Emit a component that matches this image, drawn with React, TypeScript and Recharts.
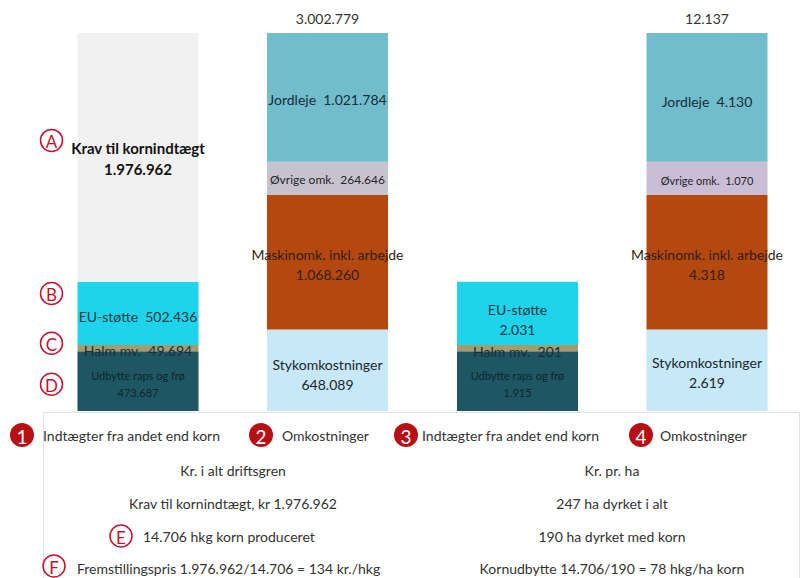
import React from 'react';
import { BarChart, Bar, XAxis, YAxis, LabelList } from 'recharts';

// values: [kr. i alt driftsgren, kr. pr. ha]
const panels = ['Kr. i alt driftsgren', 'Kr. pr. ha'];
const categories = ['Indtægter fra andet end korn', 'Omkostninger'];
const udbytteRaps = [473687, 1915];
const halm = [49694, 201];
const euStotte = [502436, 2031];
const kravKorn = [1976962, 0];
const stykomk = [648089, 2619];
const maskinomk = [1068260, 4318];
const ovrigeOmk = [264646, 1070];
const jordleje = [1021784, 4130];
const totals = [3002779, 12137];

const leftNotes = [panels[0], 'Krav til kornindtægt, kr 1.976.962', '14.706 hkg korn produceret', 'Fremstillingspris 1.976.962/14.706 = 134 kr./hkg'];
const rightNotes = [panels[1], '247 ha dyrket i alt', '190 ha dyrket med korn', 'Kornudbytte 14.706/190 = 78 hkg/ha korn'];

const FONT = 'Lato, "Open Sans", sans-serif';
const RED = '#c8102e';

const fmt = (v: number) => String(v).replace(/\B(?=(\d{3})+(?!\d))/g, '.');

const colors: Record<string, string[]> = {
  udbytte: ['#1f5663', '#1f5663'],
  halm: ['#a99a6c', '#a99a6c'],
  eu: ['#1fd3ea', '#1fd3ea'],
  krav: ['#f1f1f1', '#f1f1f1'],
  styk: ['#c7e8f7', '#c7e8f7'],
  maskin: ['#b5480f', '#b5480f'],
  ovrige: ['#c7c3ce', '#cabed6'],
  jordleje: ['#72bdcc', '#72bdcc'],
};

type Spec = {
  lines: (v: number, p: number) => string[];
  size: number[];
  dy: number[];
  bold?: boolean;
  color: string;
  letter?: string;
  letterDy?: number;
};

const specs: Record<string, Spec> = {
  krav: { lines: (v) => ['Krav til kornindtægt', fmt(v)], size: [15, 15], dy: [1, 1], bold: true, color: '#111', letter: 'A', letterDy: -17 },
  eu: { lines: (v, p) => (p === 0 ? ['EU-støtte  ' + fmt(v)] : ['EU-støtte', fmt(v)]), size: [14, 14], dy: [3, 6], color: '#133a44', letter: 'B', letterDy: -20 },
  halm: { lines: (v) => ['Halm mv.  ' + fmt(v)], size: [14, 14], dy: [2, 3], color: '#12313a', letter: 'C', letterDy: -5 },
  udbytte: { lines: (v) => ['Udbytte raps og frø', fmt(v)], size: [11, 11], dy: [3, 3], color: '#0b262d', letter: 'D', letterDy: 3 },
  styk: { lines: (v) => ['Stykomkostninger', fmt(v)], size: [14, 14], dy: [4, 2], color: '#1a262c' },
  maskin: { lines: (v) => ['Maskinomk. inkl. arbejde', fmt(v)], size: [14, 14], dy: [2, 2], color: '#321e14' },
  ovrige: { lines: (v) => ['Øvrige omk.  ' + fmt(v)], size: [12, 11], dy: [1, 2], color: '#24242c' },
  jordleje: { lines: (v) => ['Jordleje  ' + fmt(v)], size: [14, 14], dy: [2, 4], color: '#142e38' },
};

const order = ['udbytte', 'halm', 'eu', 'krav', 'styk', 'maskin', 'ovrige', 'jordleje'];

const buildRows = (p: number) => [
  { name: categories[0], udbytte: udbytteRaps[p], halm: halm[p], eu: euStotte[p], krav: kravKorn[p], styk: 0, maskin: 0, ovrige: 0, jordleje: 0 },
  { name: categories[1], udbytte: 0, halm: 0, eu: 0, krav: 0, styk: stykomk[p], maskin: maskinomk[p], ovrige: ovrigeOmk[p], jordleje: jordleje[p] },
];

const Circled = ({ cx, cy, ch }: { cx: number; cy: number; ch: string }) => (
  <g>
    <circle cx={cx} cy={cy} r={11} fill="none" stroke={RED} strokeWidth={1.5} />
    <text x={cx} y={cy + 1} textAnchor="middle" dominantBaseline="central" fontSize={17} fill={RED} fontFamily={FONT}>
      {ch}
    </text>
  </g>
);

const Numbered = ({ cx, cy, n }: { cx: number; cy: number; n: number }) => (
  <g>
    <circle cx={cx} cy={cy} r={12} fill="#b80f14" />
    <text x={cx} y={cy + 1} textAnchor="middle" dominantBaseline="central" fontSize={19} fill="#fff" fontFamily={FONT}>
      {n}
    </text>
  </g>
);

const makeLabel = (key: string, p: number) => (props: any) => {
  const vb = props.viewBox || props;
  const { x, y, width, height } = vb;
  const value = Number(props.value);
  if (!value || !height) return null;
  const spec = specs[key];
  const lines = spec.lines(value, p);
  const size = spec.size[p];
  const lh = size + 6;
  const cx = x + width / 2;
  const cy = y + height / 2 + spec.dy[p];
  const top = cy - ((lines.length - 1) * lh) / 2;
  return (
    <g>
      {lines.map((t, i) => (
        <text
          key={i}
          x={cx}
          y={top + i * lh}
          textAnchor="middle"
          dominantBaseline="central"
          fontSize={size}
          fontWeight={spec.bold ? 700 : 400}
          fill={spec.color}
          fontFamily={FONT}
          style={{ whiteSpace: 'pre' }}
        >
          {t}
        </text>
      ))}
      {p === 0 && spec.letter ? <Circled cx={x - 26} cy={y + height / 2 + (spec.letterDy || 0)} ch={spec.letter} /> : null}
    </g>
  );
};

const makeTotal = (p: number) => (props: any) => {
  const vb = props.viewBox || props;
  const { x, y, width, height } = vb;
  if (!Number(props.value) || !height) return null;
  return (
    <text x={x + width / 2} y={y - 15} textAnchor="middle" dominantBaseline="central" fontSize={14} fill="#333" fontFamily={FONT}>
      {fmt(totals[p])}
    </text>
  );
};

const Panel = ({ p, width, margin }: { p: number; width: number; margin: any }) => (
  <BarChart width={width} height={412} data={buildRows(p)} margin={margin} barSize={121}>
    <XAxis dataKey="name" hide />
    <YAxis hide domain={[0, totals[p]]} allowDataOverflow />
    {order.map((key) => (
      <Bar key={key} dataKey={key} stackId="a" fill={colors[key][p]} isAnimationActive={false}>
        <LabelList dataKey={key} content={makeLabel(key, p)} />
        {key === 'jordleje' ? <LabelList dataKey={key} content={makeTotal(p)} /> : null}
      </Bar>
    ))}
  </BarChart>
);

const noteStyle = { fontFamily: FONT, fontSize: 14, fill: '#333' };

export default function App() {
  return (
    <div style={{ position: 'fixed', left: 0, top: 0, width: 811, height: 578, background: '#fff', overflow: 'hidden' }}>
      <div style={{ position: 'absolute', left: 0, top: 0 }}>
        <Panel p={0} width={422.5} margin={{ top: 33, right: 0, bottom: 1, left: 43.5 }} />
      </div>
      <div style={{ position: 'absolute', left: 422.5, top: 0 }}>
        <Panel p={1} width={388.5} margin={{ top: 33, right: 9.5, bottom: 1, left: 0 }} />
      </div>
      <svg width={811} height={166} style={{ position: 'absolute', left: 0, top: 412, display: 'block' }}>
        <rect x={43.5} y={0.5} width={756} height={180} fill="#fff" stroke="#e2e2e2" />
        <Numbered cx={22} cy={23} n={1} />
        <text x={43} y={23} dominantBaseline="central" {...noteStyle}>{categories[0]}</text>
        <Numbered cx={261} cy={23} n={2} />
        <text x={282} y={23} dominantBaseline="central" {...noteStyle}>{categories[1]}</text>
        <Numbered cx={406} cy={23} n={3} />
        <text x={422} y={23} dominantBaseline="central" {...noteStyle}>{categories[0]}</text>
        <Numbered cx={641} cy={23} n={4} />
        <text x={660} y={23} dominantBaseline="central" {...noteStyle}>{categories[1]}</text>

        <text x={233} y={58} textAnchor="middle" dominantBaseline="central" {...noteStyle}>{leftNotes[0]}</text>
        <text x={233} y={91} textAnchor="middle" dominantBaseline="central" {...noteStyle}>{leftNotes[1]}</text>
        <Circled cx={121} cy={124} ch="E" />
        <text x={143} y={124} dominantBaseline="central" {...noteStyle}>{leftNotes[2]}</text>
        <Circled cx={54} cy={154} ch="F" />
        <text x={77} y={156} dominantBaseline="central" {...noteStyle}>{leftNotes[3]}</text>

        <text x={612} y={58} textAnchor="middle" dominantBaseline="central" {...noteStyle}>{rightNotes[0]}</text>
        <text x={612} y={91} textAnchor="middle" dominantBaseline="central" {...noteStyle}>{rightNotes[1]}</text>
        <text x={612} y={124} textAnchor="middle" dominantBaseline="central" {...noteStyle}>{rightNotes[2]}</text>
        <text x={612} y={156} textAnchor="middle" dominantBaseline="central" {...noteStyle}>{rightNotes[3]}</text>
      </svg>
    </div>
  );
}
